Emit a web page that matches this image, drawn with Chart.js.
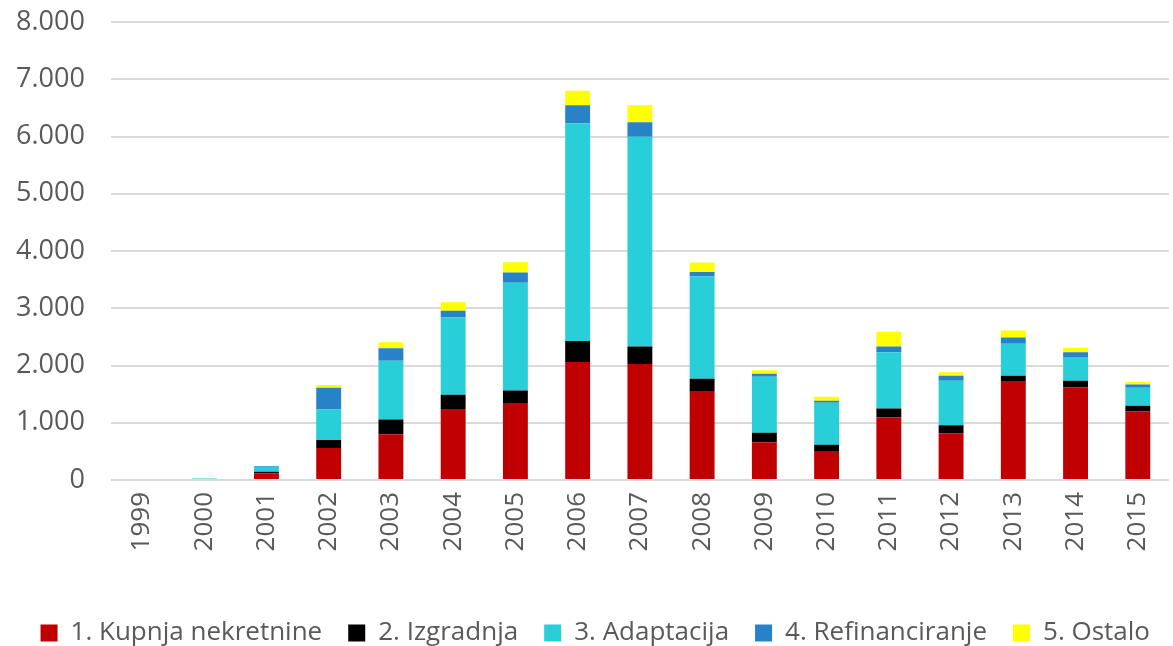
<!DOCTYPE html>
<html>
<head>
<meta charset="utf-8">
<script src="https://cdn.jsdelivr.net/npm/chart.js@4/dist/chart.umd.min.js"></script>
<style>
    html, body { margin: 0; padding: 0; background: #fff; }
    #wrap { width: 1173px; height: 646px; }
</style>
</head>
<body>
<div id="wrap"><canvas id="chart"></canvas></div>
<script>
// godine
const years = ['1999', '2000', '2001', '2002', '2003', '2004', '2005', '2006', '2007',
    '2008', '2009', '2010', '2011', '2012', '2013', '2014', '2015'];

// vrijednosti po namjeni kredita
const kupnja = [0, 0, 115, 560, 800, 1240, 1345, 2060, 2025, 1555, 660, 505, 1090, 815, 1715, 1615, 1195];
const izgradnja = [0, 0, 30, 140, 255, 250, 220, 370, 305, 215, 165, 110, 160, 140, 105, 120, 100];
const adaptacija = [0, 25, 85, 530, 1030, 1350, 1880, 3800, 3665, 1785, 980, 735, 980, 780, 560, 415, 315];
const refinanciranje = [0, 0, 15, 380, 215, 115, 180, 315, 255, 80, 50, 35, 100, 85, 110, 80, 60];
const ostalo = [0, 0, 0, 50, 105, 150, 180, 255, 295, 165, 60, 70, 260, 60, 120, 80, 45];

// os y
const yTicks = [0, 1000, 2000, 3000, 4000, 5000, 6000, 7000, 8000];

const seriesNames = ['1. Kupnja nekretnine', '2. Izgradnja', '3. Adaptacija', '4. Refinanciranje', '5. Ostalo'];
const seriesData = [kupnja, izgradnja, adaptacija, refinanciranje, ostalo];
const seriesColors = ['#c00000', '#000000', '#29cfd8', '#2882c8', '#ffff00'];

const textColor = '#595959';

const ctx = document.getElementById('chart').getContext('2d');
const chart = new Chart(ctx, {
    type: 'bar',
    data: {
        labels: years,
        datasets: seriesNames.map((name, i) => ({
            label: name,
            data: seriesData[i],
            backgroundColor: seriesColors[i],
            borderWidth: 0,
            barPercentage: 0.4,
            categoryPercentage: 1.0
        }))
    },
    options: {
        responsive: true,
        maintainAspectRatio: false,
        animation: false,
        layout: { padding: { top: 6, right: -3, left: -10, bottom: -10 } },
        scales: {
            x: {
                stacked: true,
                grid: { display: false },
                border: { display: false },
                afterFit: scale => {
                    scale.height = 114;
                    scale.paddingTop = 0;
                },
                ticks: {
                    color: textColor,
                    font: { family: 'Open Sans', size: 26 },
                    minRotation: 90,
                    maxRotation: 90,
                    padding: 4
                }
            },
            y: {
                stacked: true,
                min: 0,
                max: 8000,
                afterBuildTicks: axis => { axis.ticks = yTicks.map(v => ({ value: v })); },
                afterFit: scale => {
                    scale.paddingTop = 22;
                },
                grid: { color: '#d9d9d9', lineWidth: 2, drawTicks: false },
                border: { display: false },
                ticks: {
                    color: textColor,
                    font: { family: 'Open Sans', size: 27 },
                    padding: 26,
                    callback: v => v.toString().replace(/\B(?=(\d{3})+(?!\d))/g, '.')
                }
            }
        },
        plugins: {
            legend: {
                position: 'bottom',
                align: 'end',
                labels: {
                    color: textColor,
                    font: { family: 'Open Sans', size: 26 },
                    boxWidth: 17,
                    boxHeight: 17,
                    padding: 26
                }
            },
            tooltip: { enabled: false }
        }
    }
});
</script>
</body>
</html>
